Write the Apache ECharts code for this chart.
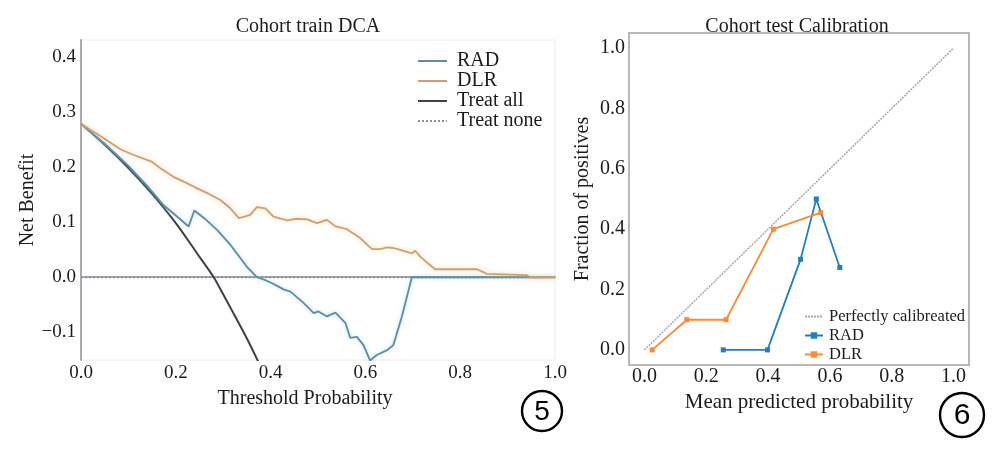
<!DOCTYPE html>
<html>
<head>
<meta charset="utf-8">
<script src="https://cdn.jsdelivr.net/npm/echarts@6/dist/echarts.min.js"></script>
<style>
  html, body { margin: 0; padding: 0; background: #fff; }
  #chart { width: 1006px; height: 451px; }
</style>
</head>
<body>
<div id="chart"></div>
<script>
// left panel: decision curve (threshold, net benefit)
const radThr = [0, 0.05, 0.10, 0.14, 0.174, 0.20, 0.227, 0.239, 0.26, 0.287, 0.315, 0.35, 0.371, 0.385, 0.399, 0.417, 0.427, 0.442, 0.47, 0.491, 0.501, 0.519, 0.537, 0.558, 0.568, 0.582, 0.596, 0.61, 0.624, 0.646, 0.659, 0.677, 0.698, 0.75, 0.8, 0.9, 1.0];
const radNB = [0.278, 0.242, 0.202, 0.165, 0.131, 0.112, 0.092, 0.121, 0.107, 0.086, 0.059, 0.019, 0.0, -0.004, -0.009, -0.017, -0.022, -0.026, -0.047, -0.065, -0.062, -0.071, -0.064, -0.083, -0.11, -0.108, -0.123, -0.151, -0.141, -0.132, -0.123, -0.071, 0, 0, 0, 0, 0];

const dlrThr = [0, 0.03, 0.06, 0.083, 0.11, 0.15, 0.17, 0.195, 0.22, 0.245, 0.27, 0.294, 0.315, 0.333, 0.345, 0.357, 0.371, 0.389, 0.406, 0.435, 0.455, 0.477, 0.498, 0.519, 0.537, 0.561, 0.589, 0.614, 0.631, 0.646, 0.659, 0.672, 0.688, 0.698, 0.705, 0.716, 0.747, 0.835, 0.857, 0.94, 0.948, 1.0];
const dlrNB = [0.278, 0.262, 0.245, 0.232, 0.222, 0.209, 0.196, 0.182, 0.172, 0.161, 0.151, 0.140, 0.125, 0.107, 0.110, 0.113, 0.127, 0.125, 0.110, 0.103, 0.106, 0.105, 0.098, 0.104, 0.092, 0.087, 0.071, 0.051, 0.051, 0.054, 0.053, 0.050, 0.046, 0.043, 0.048, 0.037, 0.0145, 0.0145, 0.006, 0.004, 0, 0];

const allThr = [0, 0.05, 0.10, 0.15, 0.20, 0.25, 0.28, 0.30, 0.35, 0.375];
const allNB = [0.278, 0.240, 0.198, 0.151, 0.098, 0.037, 0, -0.031, -0.111, -0.155];

const noneThr = [0, 1];
const noneNB = [0, 0];

const dcaYTicks = [-0.1, 0.0, 0.1, 0.2, 0.3, 0.4];
const dcaXTicks = [0, 0.2, 0.4, 0.6, 0.8, 1.0];

// right panel: calibration (mean predicted, fraction of positives)
const perfX = [0, 1];
const perfY = [0, 1];
const calRadX = [0.255, 0.398, 0.505, 0.556, 0.632];
const calRadY = [0.0, 0.0, 0.30, 0.50, 0.273];
const calDlrX = [0.025, 0.137, 0.264, 0.417, 0.570];
const calDlrY = [0.0, 0.10, 0.10, 0.40, 0.455];

const calTicks = [0, 0.2, 0.4, 0.6, 0.8, 1.0];

const zip = (a, b) => a.map((x, i) => [x, b[i]]);
const serif = '"Liberation Serif", "DejaVu Serif", serif';
const ink = '#1c1c1c';
const noDot = { opacity: 0 };

const chart = echarts.init(document.getElementById('chart'));

const option = {
  backgroundColor: '#fff',
  animation: false,
  textStyle: { fontFamily: serif, color: ink },
  title: [
    { text: 'Cohort train DCA', left: 303, top: 12, textAlign: 'center',
      textStyle: { fontFamily: serif, fontSize: 20, fontWeight: 'normal', color: ink } },
    { text: 'Cohort test Calibration', left: 792, top: 12, textAlign: 'center',
      textStyle: { fontFamily: serif, fontSize: 20, fontWeight: 'normal', color: ink } }
  ],
  legend: [
    {
      data: [
        { name: 'RAD', itemStyle: noDot },
        { name: 'DLR', itemStyle: noDot },
        { name: 'Treat all', itemStyle: noDot },
        { name: 'Treat none', itemStyle: noDot }
      ],
      orient: 'vertical',
      left: 412, top: 46,
      itemWidth: 29, itemHeight: 10, itemGap: 0,
      textStyle: { fontFamily: serif, fontSize: 20, color: ink, lineHeight: 18.7, padding: [0, 0, 0, 5] }
    },
    {
      data: [
        { name: 'Perfectly calibreated', itemStyle: noDot },
        'RAD ',
        'DLR '
      ],
      orient: 'vertical',
      left: 799, top: 303,
      itemWidth: 18, itemHeight: 8, itemGap: 2,
      textStyle: { fontFamily: serif, fontSize: 16.5, color: ink, lineHeight: 16.7, padding: [0, 0, 0, 1] }
    }
  ],
  grid: [
    { left: 81, right: 451, top: 40, bottom: 91, show: true, borderColor: '#ececec', borderWidth: 1 },
    { left: 629, right: 37, top: 33, bottom: 86, show: true, borderColor: '#b8b8b8', borderWidth: 2 }
  ],
  xAxis: [
    {
      gridIndex: 0, type: 'value', min: 0, max: 1,
      name: 'Threshold Probability', nameLocation: 'middle', nameGap: 29,
      nameTextStyle: { fontFamily: serif, fontSize: 20, color: ink, padding: [0, 26, 0, 0] },
      axisLine: { show: true, lineStyle: { color: '#a9a9b0', width: 2 } },
      axisTick: { show: false },
      splitLine: { show: false },
      axisLabel: { customValues: dcaXTicks, fontFamily: serif, fontSize: 19, color: ink, margin: 4,
        formatter: v => v.toFixed(1) }
    },
    {
      gridIndex: 1, type: 'value', min: -0.05, max: 1.05,
      name: 'Mean predicted probability', nameLocation: 'middle', nameGap: 18,
      nameTextStyle: { fontFamily: serif, fontSize: 21, color: ink },
      axisLine: { show: false },
      axisTick: { show: false },
      splitLine: { show: false },
      axisLabel: { customValues: calTicks, fontFamily: serif, fontSize: 20, color: ink, margin: 2,
        formatter: v => v.toFixed(1) }
    }
  ],
  yAxis: [
    {
      gridIndex: 0, type: 'value', min: -0.15, max: 0.43,
      name: 'Net Benefit', nameLocation: 'middle', nameGap: 42,
      nameTextStyle: { fontFamily: serif, fontSize: 20, color: ink },
      axisLine: { show: true, lineStyle: { color: '#a9a9b0', width: 2 } },
      axisTick: { show: false },
      splitLine: { show: false },
      axisLabel: { customValues: dcaYTicks, fontFamily: serif, fontSize: 19, color: ink, margin: 5,
        formatter: v => (v < 0 ? '\u2212' + Math.abs(v).toFixed(1) : v.toFixed(1)) }
    },
    {
      gridIndex: 1, type: 'value', min: -0.05, max: 1.05,
      name: 'Fraction of positives', nameLocation: 'middle', nameGap: 36,
      nameTextStyle: { fontFamily: serif, fontSize: 20, color: ink },
      axisLine: { show: false },
      axisTick: { show: false },
      splitLine: { show: false },
      axisLabel: { customValues: calTicks, fontFamily: serif, fontSize: 20, color: ink, margin: 4,
        formatter: v => v.toFixed(1) }
    }
  ],
  series: [
    {
      name: 'Treat none', type: 'line', xAxisIndex: 0, yAxisIndex: 0,
      data: zip(noneThr, noneNB), symbol: 'none', z: 1,
      lineStyle: { color: '#8c9098', width: 2, type: 'dotted' }, itemStyle: { color: '#8c9098' }
    },
    {
      name: 'RAD', type: 'line', xAxisIndex: 0, yAxisIndex: 0,
      data: zip(radThr, radNB), symbol: 'none', z: 3,
      lineStyle: { color: '#5b8ea6', width: 1.8, shadowColor: 'rgba(150,200,225,0.6)', shadowBlur: 4 },
      itemStyle: { color: '#5b8ea6' }
    },
    {
      name: 'DLR', type: 'line', xAxisIndex: 0, yAxisIndex: 0,
      data: zip(dlrThr, dlrNB), symbol: 'none', z: 3,
      lineStyle: { color: '#cf9f72', width: 1.8, shadowColor: 'rgba(245,200,130,0.7)', shadowBlur: 5 },
      itemStyle: { color: '#cf9f72' }
    },
    {
      name: 'Treat all', type: 'line', xAxisIndex: 0, yAxisIndex: 0,
      data: zip(allThr, allNB), symbol: 'none', smooth: 0.3, z: 2,
      lineStyle: { color: '#3d4149', width: 2 }, itemStyle: { color: '#3d4149' }
    },
    {
      name: 'Perfectly calibreated', type: 'line', xAxisIndex: 1, yAxisIndex: 1,
      data: zip(perfX, perfY), symbol: 'none', z: 1,
      lineStyle: { color: '#a8a8a8', width: 1.5, type: [2, 1] }, itemStyle: { color: '#a8a8a8' }
    },
    {
      name: 'RAD ', type: 'line', xAxisIndex: 1, yAxisIndex: 1,
      data: zip(calRadX, calRadY), symbol: 'rect', symbolSize: 5, z: 3,
      lineStyle: { color: '#1f7fc0', width: 1.8 }, itemStyle: { color: '#1f7fc0' }
    },
    {
      name: 'DLR ', type: 'line', xAxisIndex: 1, yAxisIndex: 1,
      data: zip(calDlrX, calDlrY), symbol: 'rect', symbolSize: 5, z: 3,
      lineStyle: { color: '#fb8a35', width: 1.8 }, itemStyle: { color: '#fb8a35' }
    }
  ],
  graphic: [
    { type: 'circle', shape: { cx: 542, cy: 411, r: 20 }, style: { fill: 'none', stroke: '#000', lineWidth: 2.4 } },
    { type: 'text', x: 542, y: 412, style: { text: '5', font: '28px "Liberation Sans", Arial, sans-serif', fill: '#000', textAlign: 'center', textVerticalAlign: 'middle' } },
    { type: 'circle', shape: { cx: 962, cy: 415, r: 22 }, style: { fill: 'none', stroke: '#000', lineWidth: 2.4 } },
    { type: 'text', x: 962, y: 416, style: { text: '6', font: '30px "Liberation Sans", Arial, sans-serif', fill: '#000', textAlign: 'center', textVerticalAlign: 'middle' } }
  ]
};

chart.setOption(option);
</script>
</body>
</html>
